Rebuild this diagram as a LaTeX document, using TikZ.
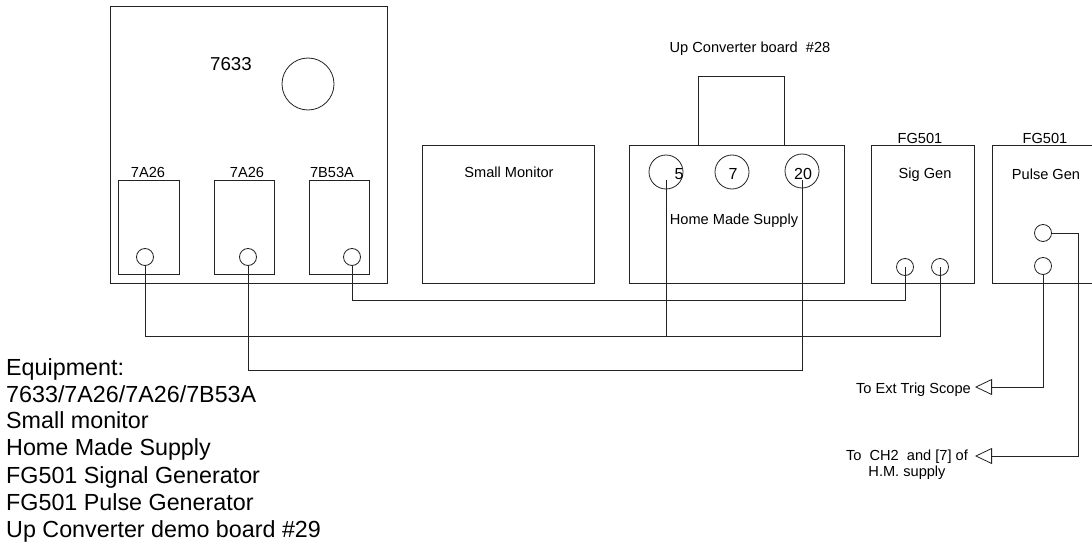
\documentclass[tikz,border=0pt]{standalone}
\usepackage{fontspec}
\setmainfont{Liberation Sans}
\usetikzlibrary{arrows.meta}
\definecolor{linec}{RGB}{35,35,35}
\begin{document}
\begin{tikzpicture}[x=1pt,y=-1pt,
  box/.style={draw=linec, line width=0.8pt, inner sep=0pt, anchor=north west},
  port/.style={draw=linec, circle, inner sep=0pt, line width=0.8pt},
  lbl/.style={font=\fontsize{14.6}{17}\selectfont, inner sep=0pt, anchor=base},
  num/.style={font=\fontsize{16}{19}\selectfont, inner sep=0pt, anchor=base},
  eq/.style={font=\fontsize{23.3}{27}\selectfont, inner sep=0pt, anchor=base west},
  wire/.style={draw=linec, line width=0.8pt},
  tip/.style={-{Triangle[open,length=17pt,width=16pt]}}]
\clip (0,0) rectangle (1092,548);
\fill[white] (0,0) rectangle (1092,548);

% Oscilloscope 7633 with plug-ins
\node[box, minimum width=277pt, minimum height=277pt] (scope) at (110,6) {};
\node[font=\fontsize{18.7}{22}\selectfont, inner sep=0pt, anchor=base] (scopelbl) at (231,71) {7633};
\node[port, minimum size=52pt] (screen) at (308,84) {};
\node[box, minimum width=61pt, minimum height=94pt] (pl1) at (118,180) {};
\node[box, minimum width=60pt, minimum height=94pt] (pl2) at (214,180) {};
\node[box, minimum width=60pt, minimum height=94pt] (pl3) at (309,180) {};
\node[lbl] (pl1lbl) at (148,178) {7A26};
\node[lbl] (pl2lbl) at (247,178) {7A26};
\node[lbl] (pl3lbl) at (332,178) {7B53A};
\node[port, minimum size=17pt] (c1) at (145,257) {};
\node[port, minimum size=17pt] (c2) at (248,257) {};
\node[port, minimum size=17pt] (c3) at (352,257) {};

% Small monitor
\node[box, minimum width=172pt, minimum height=138pt] (mon) at (422,145) {};
\node[lbl] (monlbl) at (509,178) {Small Monitor};

% Home made supply and up converter
\node[box, minimum width=215pt, minimum height=138pt] (hms) at (629,145) {};
\node[box, minimum width=86pt, minimum height=69pt] (upc) at (698,76) {};
\node[lbl] (upclbl) at (750,53) {Up Converter board\ \ \#28};
\node[port, minimum size=34pt] (h5) at (666,172) {};
\node[port, minimum size=34pt] (h7) at (732,172) {};
\node[port, minimum size=34pt] (h20) at (802,171) {};
\node[num] (h5lbl) at (679,180) {5};
\node[num] (h7lbl) at (733,180) {7};
\node[num] (h20lbl) at (803,180) {20};
\node[lbl] (hmslbl) at (734,225) {Home Made Supply};

% Signal generator
\node[box, minimum width=103pt, minimum height=138pt] (sig) at (871,145) {};
\node[lbl] (siglbl) at (920,144) {FG501};
\node[lbl] (sigtxt) at (925,179) {Sig Gen};
\node[port, minimum size=17pt] (s1) at (905,267) {};
\node[port, minimum size=17pt] (s2) at (940,267) {};

% Pulse generator
\node[box, minimum width=130pt, minimum height=138pt] (pg) at (992,145) {};
\node[lbl] (pglbl) at (1045,144) {FG501};
\node[lbl] (pgtxt) at (1046,180) {Pulse Gen};
\node[port, minimum size=17pt] (pu) at (1043,233) {};
\node[port, minimum size=17pt] (pd) at (1043,266) {};

% Bus levels and end points
\coordinate (busA) at (0,336);
\coordinate (busB) at (0,370);
\coordinate (busC) at (0,300);
\coordinate (rail) at (1078,0);
\coordinate (trigtip) at (975,387);
\coordinate (ch2tip) at (975,456);

% Wires
\draw[wire] (c1.south) -- (c1.south |- busA) -| (s2.center);
\draw[wire] ([yshift=-8pt]h5.center) -- (h5.center |- busA);
\draw[wire] (c2.south) -- (c2.south |- busB) -| ([yshift=-9pt]h20.center);
\draw[wire] (c3.south) -- (c3.south |- busC) -| (s1.center);
\draw[wire, tip] (pd.south) |- (trigtip);
\draw[wire, tip] (pu.east) -- (pu.east -| rail) |- (ch2tip);

% Arrow labels
\node[lbl, anchor=base east] (trig) at (971,393) {To Ext Trig Scope};
\node[lbl] (ch2a) at (907,460) {To\ \ CH2\ \ and [7] of};
\node[lbl] (ch2b) at (907,476) {H.M. supply};

% Equipment list
\node[eq] (eq1) at (6,375) {Equipment:};
\node[eq] (eq2) at (6,402) {7633/7A26/7A26/7B53A};
\node[eq] (eq3) at (6,428) {Small monitor};
\node[eq] (eq4) at (6,455) {Home Made Supply};
\node[eq] (eq5) at (6,483) {FG501 Signal Generator};
\node[eq] (eq6) at (6,510) {FG501 Pulse Generator};
\node[eq] (eq7) at (6,537) {Up Converter demo board \#29};
\end{tikzpicture}
\end{document}
